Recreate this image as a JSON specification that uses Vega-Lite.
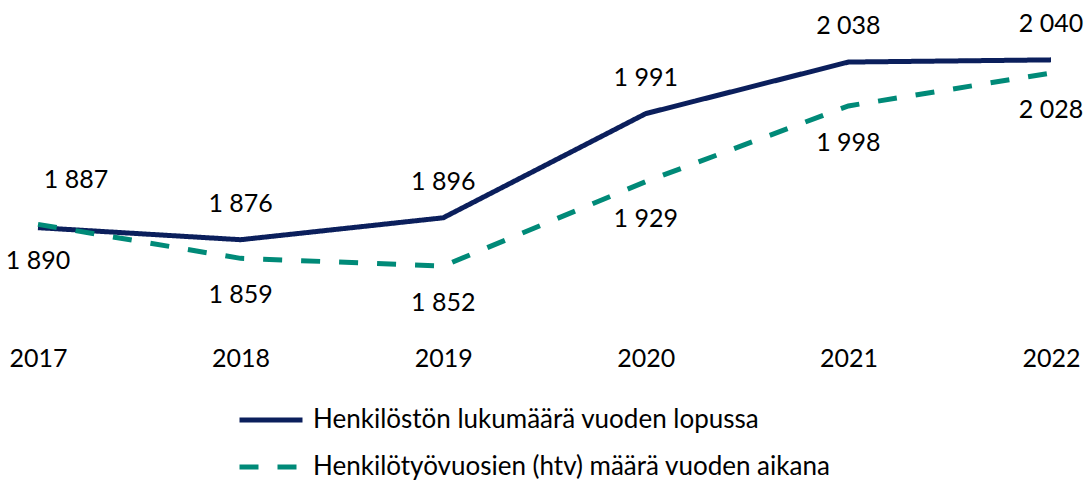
{
  "$schema": "https://vega.github.io/schema/vega-lite/v6.json",
  "width": 1013,
  "height": 329,
  "autosize": {"type": "none"},
  "padding": {"left": 38, "top": 16, "right": 39, "bottom": 137},
  "config": {
    "locale": {"number": {"decimal": ",", "thousands": " ", "grouping": [3], "currency": ["", " €"]}},
    "view": {"stroke": null},
    "font": "Lato"
  },
  "data": {
    "values": [
      {"series": "Henkilöstön lukumäärä vuoden lopussa", "year": 2017, "value": 1887},
      {"series": "Henkilöstön lukumäärä vuoden lopussa", "year": 2018, "value": 1876},
      {"series": "Henkilöstön lukumäärä vuoden lopussa", "year": 2019, "value": 1896},
      {"series": "Henkilöstön lukumäärä vuoden lopussa", "year": 2020, "value": 1991},
      {"series": "Henkilöstön lukumäärä vuoden lopussa", "year": 2021, "value": 2038},
      {"series": "Henkilöstön lukumäärä vuoden lopussa", "year": 2022, "value": 2040},
      {"series": "Henkilötyövuosien (htv) määrä vuoden aikana", "year": 2017, "value": 1890},
      {"series": "Henkilötyövuosien (htv) määrä vuoden aikana", "year": 2018, "value": 1859},
      {"series": "Henkilötyövuosien (htv) määrä vuoden aikana", "year": 2019, "value": 1852},
      {"series": "Henkilötyövuosien (htv) määrä vuoden aikana", "year": 2020, "value": 1929},
      {"series": "Henkilötyövuosien (htv) määrä vuoden aikana", "year": 2021, "value": 1998},
      {"series": "Henkilötyövuosien (htv) määrä vuoden aikana", "year": 2022, "value": 2028}
    ]
  },
  "encoding": {
    "x": {
      "field": "year", "type": "ordinal",
      "scale": {"type": "point", "padding": 0},
      "axis": {"title": null, "domain": false, "ticks": false, "labelAngle": 0, "labelFontSize": 25, "labelColor": "#000000", "labelPadding": 1, "labelFont": "Lato"}
    },
    "y": {
      "field": "value", "type": "quantitative",
      "scale": {"domain": [1780, 2080], "zero": false, "nice": false},
      "axis": null
    }
  },
  "layer": [
    {
      "mark": {"type": "line", "strokeWidth": 5},
      "encoding": {
        "color": {
          "field": "series", "type": "nominal",
          "scale": {"domain": ["Henkilöstön lukumäärä vuoden lopussa", "Henkilötyövuosien (htv) määrä vuoden aikana"], "range": ["#0b1f5c", "#008a78"]},
          "legend": {"title": null, "orient": "none", "legendX": 199, "legendY": 370, "symbolType": "stroke", "symbolSize": 3969, "symbolStrokeWidth": 5, "labelFontSize": 26, "labelColor": "#000000", "labelOffset": 8, "rowPadding": -13, "labelLimit": 800}
        },
        "strokeDash": {
          "field": "series", "type": "nominal",
          "scale": {"domain": ["Henkilöstön lukumäärä vuoden lopussa", "Henkilötyövuosien (htv) määrä vuoden aikana"], "range": [[1, 0], [19, 19]]},
          "legend": {"title": null, "orient": "none", "legendX": 199, "legendY": 370, "symbolType": "stroke", "symbolSize": 3969, "symbolStrokeWidth": 5, "labelFontSize": 26, "labelColor": "#000000", "labelOffset": 8, "rowPadding": -13, "labelLimit": 800}
        }
      }
    },
    {
      "transform": [{"filter": "datum.series == 'Henkilöstön lukumäärä vuoden lopussa' && datum.year != 2017"}],
      "mark": {"type": "text", "fontSize": 25, "color": "#000000", "baseline": "middle", "dy": -36},
      "encoding": {"text": {"field": "value", "type": "quantitative", "format": ",.0f"}}
    },
    {
      "transform": [{"filter": "datum.series == 'Henkilöstön lukumäärä vuoden lopussa' && datum.year == 2017"}],
      "mark": {"type": "text", "fontSize": 25, "color": "#000000", "baseline": "middle", "dx": 38, "dy": -48},
      "encoding": {"text": {"field": "value", "type": "quantitative", "format": ",.0f"}}
    },
    {
      "transform": [{"filter": "datum.series == 'Henkilötyövuosien (htv) määrä vuoden aikana'"}],
      "mark": {"type": "text", "fontSize": 25, "color": "#000000", "baseline": "middle", "dy": 37},
      "encoding": {"text": {"field": "value", "type": "quantitative", "format": ",.0f"}}
    }
  ]
}
